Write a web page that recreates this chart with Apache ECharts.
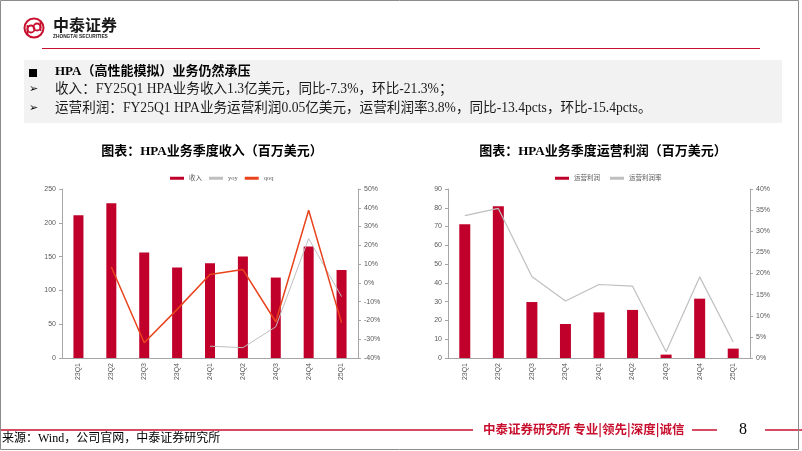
<!DOCTYPE html>
<html>
<head>
<meta charset="utf-8">
<script src="https://cdn.jsdelivr.net/npm/echarts@6/dist/echarts.min.js"></script>
<style>
  html, body { margin: 0; padding: 0; background: #fff; }
  #page { width: 802px; height: 451px; }
</style>
</head>
<body>
<div id="page"></div>
<script>
// 季度
const quarters = ['23Q1', '23Q2', '23Q3', '23Q4', '24Q1', '24Q2', '24Q3', '24Q4', '25Q1'];
// 收入（百万美元）与同比/环比（%）
const revenue = [211, 229, 156, 134, 140, 150, 119, 165, 130];
const revenueYoy = [null, null, null, null, -33.7, -34.5, -23.4, 23.6, -7.3];
const revenueQoq = [null, 8.5, -31.9, -14.1, 4.5, 7.1, -20.7, 38.7, -21.3];
// 运营利润（百万美元）与运营利润率（%）
const opProfit = [71.2, 80.8, 29.8, 18.1, 24.3, 25.6, 1.8, 31.6, 5.0];
const opMargin = [33.7, 35.4, 19.3, 13.5, 17.4, 17.0, 1.5, 19.2, 3.8];

const RED = '#c0002a';
const AXIS = '#a6a6a6';
const LABEL = '#595959';
const SERIF = '"Liberation Serif", "Times New Roman", "Noto Sans CJK SC", serif';
const SANS = '"Liberation Sans", Arial, "Noto Sans CJK SC", sans-serif';

const chart = echarts.init(document.getElementById('page'));

function xAxisFor(gridIndex) {
  return {
    type: 'category',
    gridIndex,
    data: quarters,
    axisLine: { lineStyle: { color: AXIS } },
    axisTick: { length: 3, lineStyle: { color: AXIS } },
    axisLabel: { rotate: 90, fontSize: 7, color: LABEL, fontFamily: SANS, margin: 5 }
  };
}

function valueAxis(gridIndex, min, max, interval, pct, pos) {
  return {
    type: 'value',
    gridIndex,
    position: pos,
    min, max, interval,
    splitLine: { show: false },
    axisLine: { show: true, lineStyle: { color: AXIS } },
    axisTick: { show: true, length: 3, lineStyle: { color: AXIS } },
    axisLabel: {
      fontSize: 7, color: LABEL, fontFamily: SANS, margin: 6,
      formatter: pct ? (v) => v + '%' : (v) => v
    }
  };
}

const option = {
  animation: false,
  backgroundColor: '#fff',
  title: [
    {
      text: '图表：HPA业务季度收入（百万美元）',
      left: 207, top: 140, textAlign: 'center',
      textStyle: { fontSize: 13, fontWeight: 'bold', color: '#000', fontFamily: SERIF }
    },
    {
      text: '图表：HPA业务季度运营利润（百万美元）',
      left: 598, top: 140, textAlign: 'center',
      textStyle: { fontSize: 13, fontWeight: 'bold', color: '#000', fontFamily: SERIF }
    }
  ],
  legend: [
    {
      data: [
        { name: '收入', icon: 'rect' },
        { name: 'yoy', icon: 'rect', itemStyle: { color: '#bfbfbf' } },
        { name: 'qoq', icon: 'rect', itemStyle: { color: '#e8431c' } }
      ],
      left: 165, top: 170,
      itemWidth: 14, itemHeight: 3, itemGap: 7,
      textStyle: { fontSize: 6.5, color: LABEL, fontFamily: SERIF }
    },
    {
      data: [
        { name: '运营利润', icon: 'rect' },
        { name: '运营利润率', icon: 'rect', itemStyle: { color: '#bfbfbf' } }
      ],
      left: 550, top: 170,
      itemWidth: 14, itemHeight: 3, itemGap: 10,
      textStyle: { fontSize: 6.5, color: LABEL, fontFamily: SERIF }
    }
  ],
  grid: [
    { left: 62, width: 296, top: 189, height: 169 },
    { left: 448, width: 302, top: 189, height: 169 }
  ],
  xAxis: [xAxisFor(0), xAxisFor(1)],
  yAxis: [
    valueAxis(0, 0, 250, 50, false, 'left'),
    valueAxis(0, -40, 50, 10, true, 'right'),
    valueAxis(1, 0, 90, 10, false, 'left'),
    valueAxis(1, 0, 40, 5, true, 'right')
  ],
  series: [
    {
      name: '收入', type: 'bar', xAxisIndex: 0, yAxisIndex: 0,
      data: revenue, barWidth: 10, itemStyle: { color: RED }
    },
    {
      name: 'yoy', type: 'line', xAxisIndex: 0, yAxisIndex: 1,
      data: revenueYoy, symbol: 'none', connectNulls: false,
      lineStyle: { color: '#bfbfbf', width: 1 }, itemStyle: { color: '#bfbfbf' }
    },
    {
      name: 'qoq', type: 'line', xAxisIndex: 0, yAxisIndex: 1,
      data: revenueQoq, symbol: 'none',
      lineStyle: { color: '#e8431c', width: 1.5 }, itemStyle: { color: '#e8431c' }
    },
    {
      name: '运营利润', type: 'bar', xAxisIndex: 1, yAxisIndex: 2,
      data: opProfit, barWidth: 11, itemStyle: { color: RED }
    },
    {
      name: '运营利润率', type: 'line', xAxisIndex: 1, yAxisIndex: 3,
      data: opMargin, symbol: 'none',
      lineStyle: { color: '#bfbfbf', width: 1.2 }, itemStyle: { color: '#bfbfbf' }
    }
  ],
  graphic: [
    // 页面边框
    { type: 'rect', shape: { x: 0.5, y: 0.5, width: 798, height: 449 }, style: { fill: 'none', stroke: '#8c8c8c', lineWidth: 1 }, z: 100 },
    // logo
    { type: 'circle', shape: { cx: 34, cy: 28, r: 9.5 }, style: { fill: 'none', stroke: '#c8102e', lineWidth: 2 } },
    { type: 'circle', shape: { cx: 31, cy: 29, r: 3.5 }, style: { fill: 'none', stroke: '#c8102e', lineWidth: 1.8 } },
    { type: 'circle', shape: { cx: 37, cy: 27, r: 3.5 }, style: { fill: 'none', stroke: '#c8102e', lineWidth: 1.8 } },
    { type: 'line', shape: { x1: 27.5, y1: 25, x2: 27.5, y2: 35 }, style: { stroke: '#c8102e', lineWidth: 1.8 } },
    { type: 'line', shape: { x1: 40.5, y1: 21, x2: 40.5, y2: 31 }, style: { stroke: '#c8102e', lineWidth: 1.8 } },
    { type: 'text', left: 53, top: 17, style: { text: '中泰证券', font: 'bold 16px "Noto Sans CJK SC", sans-serif', fill: '#1a1a1a' } },
    { type: 'text', left: 53, top: 34, style: { text: 'ZHONGTAI SECURITIES', font: 'bold 4.8px "Liberation Sans", sans-serif', fill: '#1a1a1a' } },
    // 顶部红线
    { type: 'line', shape: { x1: 42, y1: 48.5, x2: 760, y2: 48.5 }, style: { stroke: '#c8102e', lineWidth: 1 } },
    // 要点灰框
    { type: 'rect', shape: { x: 24, y: 60, width: 758, height: 63 }, style: { fill: '#f2f2f2' } },
    { type: 'rect', shape: { x: 29, y: 69, width: 8, height: 8 }, style: { fill: '#000' } },
    { type: 'text', left: 55, top: 65, style: { text: 'HPA（高性能模拟）业务仍然承压', font: 'bold 13px ' + SERIF, fill: '#000' } },
    { type: 'text', left: 29, top: 84, style: { text: '➢', font: '11px "DejaVu Sans", sans-serif', fill: '#000' } },
    { type: 'text', left: 55, top: 83, style: { text: '收入：FY25Q1 HPA业务收入1.3亿美元，同比-7.3%，环比-21.3%；', font: '13.6px ' + SERIF, fill: '#1a1a1a' } },
    { type: 'text', left: 29, top: 103, style: { text: '➢', font: '11px "DejaVu Sans", sans-serif', fill: '#000' } },
    { type: 'text', left: 55, top: 102, style: { text: '运营利润：FY25Q1 HPA业务运营利润0.05亿美元，运营利润率3.8%，同比-13.4pcts，环比-15.4pcts。', font: '13.6px ' + SERIF, fill: '#1a1a1a' } },
    // 页脚
    { type: 'line', shape: { x1: 0, y1: 430, x2: 473, y2: 430 }, style: { stroke: '#c8102e', lineWidth: 1.5 } },
    { type: 'text', left: 483, top: 423, style: { text: '中泰证券研究所 专业|领先|深度|诚信', font: 'bold 12.5px "Noto Sans CJK SC", sans-serif', fill: '#c8102e' } },
    { type: 'line', shape: { x1: 692, y1: 430, x2: 717, y2: 430 }, style: { stroke: '#c8102e', lineWidth: 1.5 } },
    { type: 'text', left: 739, top: 422, style: { text: '8', font: '16px ' + SERIF, fill: '#000' } },
    { type: 'line', shape: { x1: 765, y1: 430, x2: 802, y2: 430 }, style: { stroke: '#c8102e', lineWidth: 1.5 } },
    { type: 'text', left: 2, top: 433, style: { text: '来源：Wind，公司官网，中泰证券研究所', font: '12px ' + SERIF, fill: '#000' } }
  ]
};

chart.setOption(option);
</script>
</body>
</html>
